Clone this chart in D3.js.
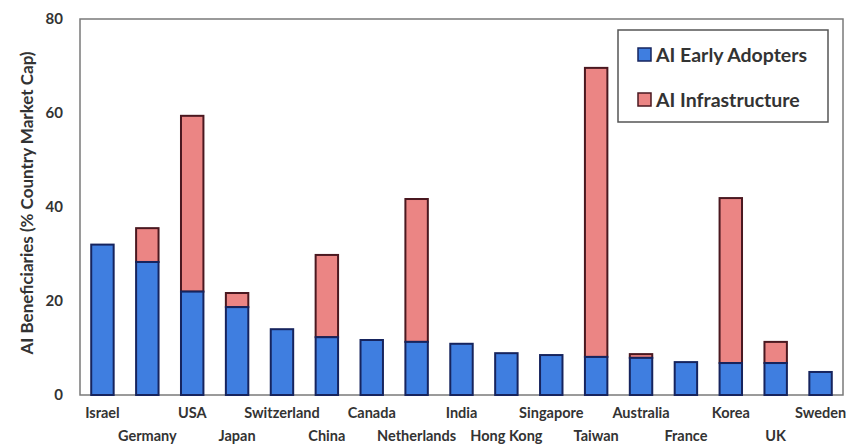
<!DOCTYPE html>
<html><head><meta charset="utf-8">
<script src="https://cdn.jsdelivr.net/npm/d3@7"></script>
<style>body{margin:0;background:#fff}text{font-family:Lato,"Open Sans",sans-serif}</style>
</head><body><svg id="c" width="850" height="444"></svg>
<script>
const categories = ["Israel","Germany","USA","Japan","Switzerland","China","Canada","Netherlands","India","Hong Kong","Singapore","Taiwan","Australia","France","Korea","UK","Sweden"];
const earlyAdopters = [32,28.3,22,18.7,14,12.3,11.7,11.3,10.9,8.9,8.5,8.1,7.9,7,6.8,6.8,4.9];
const infrastructure = [0,7.2,37.4,3,0,17.5,0,30.4,0,0,0,61.5,0.8,0,35.1,4.5,0];
const yTicks = [0,20,40,60,80];
const seriesNames = ["AI Early Adopters","AI Infrastructure"];

const svg = d3.select("#c");
const m = {l:80,t:19,r:843,b:395};
const x = d3.scaleBand().domain(categories).range([m.l,m.r]).paddingInner(0.5).paddingOuter(0.25);
const y = d3.scaleLinear().domain([0,80]).range([m.b,m.t]);

const fills = ["#3f7ee0","#eb8584"];
const strokes = ["#16245e","#4a1820"];

// frame
svg.append("rect").attr("x",m.l).attr("y",m.t).attr("width",m.r-m.l).attr("height",m.b-m.t)
  .attr("fill","none").attr("stroke","#7a7a7a").attr("stroke-width",1.5);

const data = categories.map((c,i)=>({c,a:earlyAdopters[i],b:infrastructure[i]}));
const g = svg.append("g");
data.forEach(d=>{
  if(d.b>0){
    g.append("rect").attr("x",x(d.c)).attr("width",x.bandwidth())
      .attr("y",y(d.a+d.b)).attr("height",y(d.a)-y(d.a+d.b))
      .attr("fill",fills[1]).attr("stroke",strokes[1]).attr("stroke-width",2);
  }
  g.append("rect").attr("x",x(d.c)).attr("width",x.bandwidth())
    .attr("y",y(d.a)).attr("height",y(0)-y(d.a))
    .attr("fill",fills[0]).attr("stroke",strokes[0]).attr("stroke-width",2);
});

// y axis
const ya = svg.append("g").attr("transform",`translate(${m.l},0)`)
  .call(d3.axisLeft(y).tickValues(yTicks).tickSize(0).tickPadding(17));
ya.select(".domain").remove();
ya.selectAll("text").attr("font-size",15).attr("font-weight",700).attr("fill","#333").attr("font-family","Lato,sans-serif");

// x axis labels alternating
const xa = svg.append("g").attr("transform",`translate(0,${m.b})`)
  .call(d3.axisBottom(x).tickSize(0).tickPadding(0));
xa.select(".domain").remove();
xa.selectAll("text").attr("font-size",14.5).attr("font-weight",700).attr("fill","#333")
  .attr("font-family","Lato,sans-serif")
  .attr("dy",null)
  .attr("y",(d,i)=> i%2===0 ? 23 : 46);

// y label
svg.append("text").attr("transform","translate(33,203) rotate(-90)")
  .attr("text-anchor","middle").attr("font-size",17).attr("font-weight",700).attr("fill","#333")
  .text("AI Beneficiaries (% Country Market Cap)");

// legend
const lg = svg.append("g");
lg.append("rect").attr("x",618).attr("y",30).attr("width",210).attr("height",92)
  .attr("fill","#fff").attr("stroke","#555").attr("stroke-width",1.5);
seriesNames.forEach((s,i)=>{
  const base = 62 + i*45;
  lg.append("rect").attr("x",638).attr("y",base-14).attr("width",13).attr("height",13)
    .attr("fill",fills[i]).attr("stroke",strokes[i]).attr("stroke-width",1.5);
  lg.append("text").attr("x",656).attr("y",base).attr("font-size",19.5).attr("font-weight",700)
    .attr("fill","#333").text(s);
});
</script></body></html>
